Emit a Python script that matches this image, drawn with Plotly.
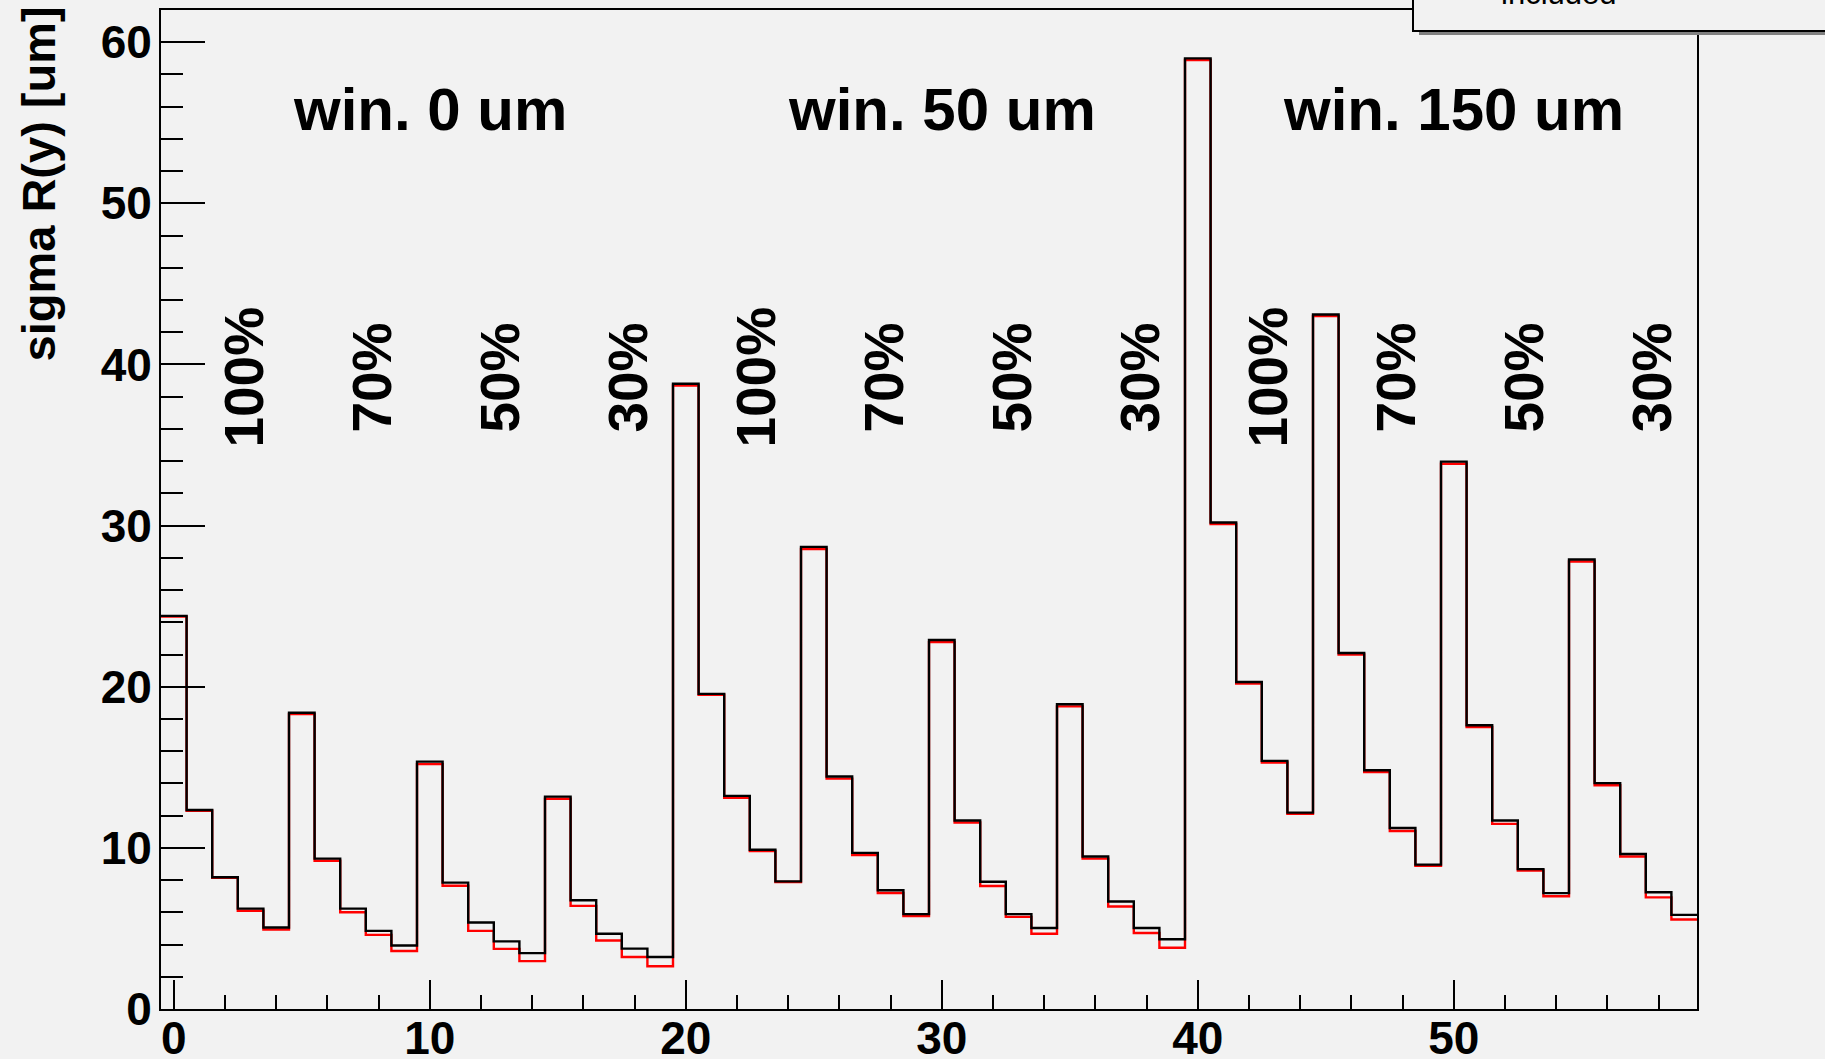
import numpy as np
import plotly.graph_objects as go

# Bin centres 0..59: three window settings x four fractions x five bins each
bin_centers = list(range(60))

# sigma R(y) [um], all hits
sigma_all = [24.4, 12.35, 8.18, 6.23, 5.06, 18.39, 9.33, 6.23, 4.85, 3.94,
             15.35, 7.84, 5.37, 4.20, 3.47, 13.18, 6.75, 4.67, 3.75, 3.23,
             38.8, 19.56, 13.23, 9.88, 7.92, 28.68, 14.43, 9.69, 7.37, 5.89,
             22.9, 11.7, 7.90, 5.89, 5.03, 18.91, 9.46, 6.67, 5.03, 4.33,
             59.0, 30.19, 20.29, 15.4, 12.19, 43.1, 22.09, 14.82, 11.23, 8.96,
             33.97, 17.61, 11.7, 8.68, 7.19, 27.9, 14.02, 9.62, 7.25, 5.84]

# sigma R(y) [um], second selection (red)
sigma_sel = [24.35, 12.3, 8.15, 6.10, 4.93, 18.3, 9.20, 6.00, 4.60, 3.60,
             15.2, 7.65, 4.85, 3.73, 2.97, 13.05, 6.40, 4.25, 3.23, 2.65,
             38.7, 19.5, 13.1, 9.80, 7.88, 28.55, 14.3, 9.55, 7.20, 5.77,
             22.77, 11.57, 7.63, 5.72, 4.67, 18.78, 9.33, 6.36, 4.72, 3.80,
             58.9, 30.1, 20.2, 15.3, 12.12, 43.0, 22.0, 14.7, 11.05, 8.89,
             33.84, 17.5, 11.49, 8.60, 7.00, 27.77, 13.89, 9.46, 6.93, 5.55]

window_labels = ["win. 0 um", "win. 50 um", "win. 150 um"]
window_centers = [10, 30, 50]
fraction_labels = ["100%", "70%", "50%", "30%"]

BG = "#f2f2f2"
FONT = "Liberation Sans"

# page geometry (pixels)
W, H = 1825, 1059
ML, MR, MT, MB = 161, 128, 10, 50
PW, PH = W - ML - MR, H - MT - MB


def px_x(px):
    return (px - ML) / PW


def px_y(py):
    return (H - MB - py) / PH


def step_xy(values):
    centers = np.asarray(bin_centers, dtype=float)
    edges = np.concatenate([centers - 0.5, [centers[-1] + 0.5]])
    vals = np.concatenate([values, [values[-1]]])
    return edges, vals


fig = go.Figure()

for vals, color in [(sigma_sel, "#ff0000"), (sigma_all, "#000000")]:
    ex, ey = step_xy(vals)
    fig.add_trace(go.Scatter(x=ex, y=ey, mode="lines", line_shape="hv",
                             line=dict(color=color, width=2.4),
                             hoverinfo="skip", showlegend=False))

annotations = []
for lab, xc in zip(window_labels, window_centers):
    annotations.append(dict(x=xc, y=55.8, xref="x", yref="y", text=lab,
                            showarrow=False, xanchor="center", yanchor="middle",
                            font=dict(family=FONT, size=60, color="black", weight="bold")))

for w in range(3):
    for k, lab in enumerate(fraction_labels):
        annotations.append(dict(x=20 * w + 5 * k + 2.75, y=39.2, xref="x", yref="y",
                                text=lab, textangle=-90, showarrow=False,
                                xanchor="center", yanchor="middle",
                                font=dict(family=FONT, size=55, color="black", weight="bold")))

# y-axis title, aligned to the top end of the axis
annotations.append(dict(x=px_x(38), y=px_y(5), xref="paper", yref="paper",
                        text="sigma R(y) [um]", textangle=-90, showarrow=False,
                        xanchor="center", yanchor="top",
                        font=dict(family=FONT, size=47, color="black", weight="bold")))

# legend entry text (box partly outside the canvas)
annotations.append(dict(x=px_x(1558), y=px_y(13), xref="paper", yref="paper",
                        text="included", showarrow=False,
                        xanchor="center", yanchor="bottom",
                        font=dict(family=FONT, size=31, color="black")))

shapes = [
    dict(type="rect", xref="paper", yref="paper",
         x0=px_x(1419), x1=px_x(1900), y0=px_y(35), y1=px_y(-60),
         fillcolor="#808080", line=dict(width=0), layer="above"),
    dict(type="rect", xref="paper", yref="paper",
         x0=px_x(1413), x1=px_x(1900), y0=px_y(31), y1=px_y(-60),
         fillcolor=BG, line=dict(color="black", width=2), layer="above"),
]

tickfont = dict(family=FONT, size=46, color="black", weight="bold")

fig.update_layout(
    width=W, height=H,
    margin=dict(l=ML, r=MR, t=MT, b=MB, pad=0, autoexpand=False),
    paper_bgcolor=BG, plot_bgcolor=BG,
    showlegend=False,
    annotations=annotations,
    shapes=shapes,
    xaxis=dict(range=[-0.5, 59.5], tickvals=[0, 10, 20, 30, 40, 50],
               ticks="inside", ticklen=29, tickwidth=2, tickcolor="black",
               minor=dict(dtick=2, tick0=0, ticks="inside", ticklen=14,
                          tickwidth=2, tickcolor="black"),
               showline=True, linewidth=2, linecolor="black", mirror=True,
               showgrid=False, zeroline=False, tickfont=tickfont,
               ticklabelstandoff=-12, automargin=False),
    yaxis=dict(range=[0, 62], tickvals=[0, 10, 20, 30, 40, 50, 60],
               ticks="inside", ticklen=44, tickwidth=2, tickcolor="black",
               minor=dict(dtick=2, tick0=0, ticks="inside", ticklen=22,
                          tickwidth=2, tickcolor="black"),
               showline=True, linewidth=2, linecolor="black", mirror=True,
               showgrid=False, zeroline=False, tickfont=tickfont,
               ticklabelstandoff=-2, automargin=False),
)

fig.write_html("out.html")
